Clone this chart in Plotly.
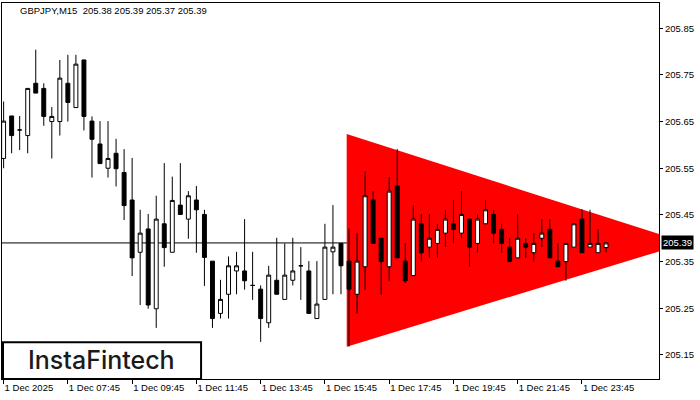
import plotly.graph_objects as go

# ---- data (GBPJPY M15, 1 Dec 2025 from 05:45) ----
bar_index = list(range(76))
opens = [205.571, 205.662, 205.632, 205.620, 205.732, 205.721, 205.650, 205.650, 205.732, 205.680,
         205.782, 205.651, 205.602, 205.550, 205.582, 205.541, 205.482, 205.370, 205.420, 205.249,
         205.431, 205.370, 205.471, 205.441, 205.482, 205.451, 205.351, 205.239, 205.280, 205.330,
         205.330, 205.299, 205.291, 205.219, 205.310, 205.269, 205.310, 205.341, 205.330, 205.228,
         205.269, 205.371, 205.389, 205.351, 205.280, 205.339, 205.482, 205.400, 205.339, 205.512,
         205.351, 205.320, 205.431, 205.381, 205.389, 205.411, 205.431, 205.411, 205.441, 205.389,
         205.431, 205.451, 205.419, 205.381, 205.358, 205.389, 205.369, 205.400, 205.419, 205.351,
         205.350, 205.381, 205.441, 205.381, 205.369, 205.380]
highs = [205.693, 205.662, 205.662, 205.721, 205.804, 205.732, 205.681, 205.782, 205.793, 205.793,
         205.782, 205.661, 205.651, 205.651, 205.613, 205.591, 205.572, 205.461, 205.452, 205.491,
         205.561, 205.532, 205.561, 205.501, 205.512, 205.461, 205.351, 205.311, 205.361, 205.371,
         205.441, 205.371, 205.299, 205.341, 205.401, 205.389, 205.401, 205.381, 205.351, 205.351,
         205.431, 205.471, 205.389, 205.421, 205.411, 205.543, 205.501, 205.400, 205.531, 205.591,
         205.389, 205.471, 205.452, 205.452, 205.431, 205.461, 205.482, 205.501, 205.441, 205.451,
         205.482, 205.461, 205.431, 205.400, 205.451, 205.400, 205.411, 205.441, 205.441, 205.389,
         205.389, 205.431, 205.462, 205.461, 205.419, 205.390]
lows = [205.550, 205.582, 205.589, 205.582, 205.711, 205.641, 205.571, 205.620, 205.650, 205.680,
        205.631, 205.530, 205.560, 205.530, 205.511, 205.439, 205.319, 205.257, 205.249, 205.208,
        205.339, 205.370, 205.451, 205.399, 205.369, 205.298, 205.208, 205.228, 205.228, 205.280,
        205.290, 205.268, 205.178, 205.208, 205.280, 205.269, 205.299, 205.268, 205.239, 205.228,
        205.269, 205.280, 205.280, 205.168, 205.239, 205.289, 205.389, 205.279, 205.309, 205.358,
        205.304, 205.320, 205.350, 205.358, 205.358, 205.381, 205.389, 205.400, 205.339, 205.369,
        205.431, 205.389, 205.369, 205.350, 205.358, 205.358, 205.350, 205.381, 205.358, 205.339,
        205.309, 205.381, 205.369, 205.381, 205.369, 205.370]
closes = [205.651, 205.620, 205.632, 205.721, 205.711, 205.661, 205.661, 205.743, 205.691, 205.773,
          205.661, 205.612, 205.560, 205.571, 205.549, 205.470, 205.358, 205.411, 205.257, 205.441,
          205.380, 205.481, 205.451, 205.491, 205.461, 205.359, 205.228, 205.269, 205.341, 205.341,
          205.309, 205.299, 205.228, 205.321, 205.280, 205.321, 205.330, 205.341, 205.239, 205.259,
          205.381, 205.381, 205.341, 205.291, 205.351, 205.491, 205.389, 205.350, 205.501, 205.358,
          205.309, 205.441, 205.369, 205.400, 205.419, 205.441, 205.419, 205.451, 205.381, 205.441,
          205.461, 205.411, 205.389, 205.350, 205.400, 205.381, 205.389, 205.411, 205.358, 205.339,
          205.389, 205.431, 205.369, 205.389, 205.389, 205.390]

tick_positions = [0, 8, 16, 24, 32, 40, 48, 56, 64, 72]
tick_labels = ["1 Dec 2025", "1 Dec 07:45", "1 Dec 09:45", "1 Dec 11:45", "1 Dec 13:45",
               "1 Dec 15:45", "1 Dec 17:45", "1 Dec 19:45", "1 Dec 21:45", "1 Dec 23:45"]
price_ticks = [205.15, 205.25, 205.35, 205.45, 205.55, 205.65, 205.75, 205.85]
price_labels = ["205.15", "205.25", "205.35", "205.45", "205.55", "205.65", "205.75", "205.85"]

# symmetric triangle pattern (bar index, price)
tri_x = [42.71, 85.05, 42.71]
tri_y = [205.6235, 205.39, 205.1677]

bid_price = 205.39
title_text = "GBPJPY,M15\u00a0 205.38 205.39 205.37 205.39"

FONT = "Liberation Sans"

fig = go.Figure()
fig.add_trace(go.Candlestick(
    x=bar_index, open=opens, high=highs, low=lows, close=closes,
    increasing=dict(line=dict(color="black", width=1), fillcolor="white"),
    decreasing=dict(line=dict(color="black", width=1), fillcolor="black"),
    whiskerwidth=0, showlegend=False, hoverinfo="skip",
))

path = "M {},{} L {},{} L {},{} Z".format(tri_x[0], tri_y[0], tri_x[1], tri_y[1], tri_x[2], tri_y[2])
fig.add_shape(type="path", path=path, xref="x", yref="y",
              fillcolor="#ff0000", line=dict(width=0), layer="below")
fig.add_shape(type="line", xref="paper", x0=0, x1=1, yref="y", y0=bid_price, y1=bid_price,
              line=dict(color="black", width=1), layer="below")

# logo box
fig.add_shape(type="rect", xref="paper", yref="paper", x0=0.0015, x1=0.303, y0=0.0, y1=0.098,
              fillcolor="white", line=dict(color="black", width=2), layer="above")
fig.add_annotation(text="InstaFintech", xref="paper", yref="paper", x=0.152, y=0.05,
                   xanchor="center", yanchor="middle", showarrow=False,
                   font=dict(family="Inter", size=25, color="#1a1a1a", weight=500))

fig.add_annotation(text=title_text, xref="paper", yref="paper", x=0.0244, y=0.979,
                   xanchor="left", yanchor="middle", showarrow=False,
                   font=dict(family=FONT, size=9.5, color="black"))

fig.add_annotation(text="205.39", xref="paper", yref="y", x=1, y=bid_price,
                   xanchor="left", yanchor="middle", xshift=2, showarrow=False,
                   bgcolor="black", borderpad=1,
                   font=dict(family=FONT, size=9.5, color="white"))

fig.update_layout(
    width=700, height=400,
    margin=dict(l=2, r=41, t=3, b=21, autoexpand=False),
    paper_bgcolor="white", plot_bgcolor="white",
    showlegend=False,
    xaxis=dict(range=[-0.2, 81.59], rangeslider=dict(visible=False), automargin=False,
               tickvals=tick_positions, ticktext=tick_labels,
               ticks="outside", ticklen=4, tickcolor="black",
               ticklabelposition="outside right",
               showgrid=False, zeroline=False,
               showline=True, linecolor="black", linewidth=1, mirror=True,
               tickfont=dict(family=FONT, size=9.5, color="black")),
    yaxis=dict(range=[205.0985, 205.904], side="right", automargin=False,
               tickvals=price_ticks, ticktext=price_labels,
               ticks="outside", ticklen=3, tickcolor="black",
               showgrid=False, zeroline=False,
               showline=True, linecolor="black", linewidth=1, mirror=True,
               tickfont=dict(family=FONT, size=9.5, color="black")),
)

fig.write_html("out.html", config={"displayModeBar": False},
               post_script="document.body.style.margin='0';document.body.style.overflow='hidden';")
